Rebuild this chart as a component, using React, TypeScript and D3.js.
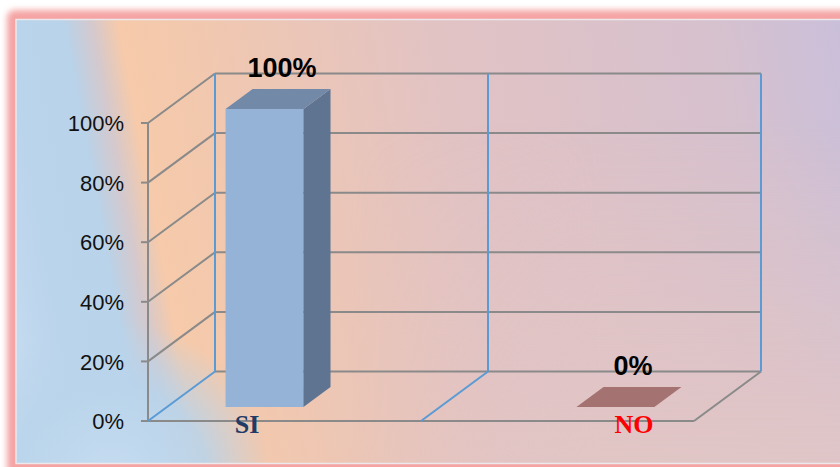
import React from "react";
import * as d3 from "d3";

const categories = ["SI", "NO"];
const values = [1.0, 0.0];
const valueLabels = ["100%", "0%"];
const yTicks = [0, 0.2, 0.4, 0.6, 0.8, 1.0];
const categoryColors = ["#1F3B66", "#FF0000"];

const W = 840;
const H = 467;

export default function App() {
  const x0 = 148, x1 = 694;
  const y = d3.scaleLinear().domain([0, 1]).range([421, 123]);
  const DX = 67, DY = -49.5;
  const t0 = 0.283, t1 = 0.687;
  const xCat = d3.scaleBand<string>().domain(categories).range([x0, x1]);
  const xBar = d3.scaleBand<string>().domain(categories).range([x0, x1]).paddingInner(0.778).paddingOuter(0.167);
  const xLab = d3.scalePoint<string>().domain(categories).range([247, 634]);
  const fmt = d3.format(".0%");

  const grey = "#8A8A8A";
  const blue = "#5B9BD5";

  const ux = 0.9835, uy = -0.1808;
  const sMin = -68, sMax = 823;
  const g = { x1: ux * sMin, y1: uy * sMin, x2: ux * sMax, y2: uy * sMax };
  const stops: [number, string][] = [
    [-68, "#C8DDF1"], [0, "#BAD4EC"], [58, "#B8D3EA"], [85, "#D3C9CE"],
    [112, "#F6CAAA"], [180, "#F2C8AE"], [420, "#E2C3C4"], [700, "#D6C1CE"], [823, "#CABFDA"],
  ];

  const line = (xa: number, ya: number, xb: number, yb: number, c: string, k: string) => (
    <line key={k} x1={xa} y1={ya} x2={xb} y2={yb} stroke={c} strokeWidth={2} />
  );

  const elems: React.ReactNode[] = [];
  yTicks.forEach((t, i) => {
    const yy = y(t);
    elems.push(line(x0 + DX, yy + DY, x1 + DX, yy + DY, grey, "bg" + i));
    if (i > 0) elems.push(line(x0, yy, x0 + DX, yy + DY, grey, "sd" + i));
    elems.push(line(x0 - 7, yy, x0, yy, grey, "tk" + i));
  });
  elems.push(line(x0, y(0), x1, y(0), grey, "ff"));
  elems.push(line(x1, y(0), x1 + DX, y(0) + DY, grey, "fr"));
  elems.push(line(x0, y(0), x0, y(1), grey, "ax"));
  const bounds = [x0, (xCat(categories[1]) as number), x1];
  bounds.forEach((bx, i) => {
    elems.push(line(bx + DX, y(0) + DY, bx + DX, y(1) + DY, blue, "bv" + i));
    if (i < 2) elems.push(line(bx, y(0), bx + DX, y(0) + DY, blue, "bd" + i));
  });

  const bw = xBar.bandwidth();
  const ddx = (t1 - t0) * DX, ddy = (t1 - t0) * DY;
  const barColors = [
    { front: "#95B3D7", side: "#5F7490", top: "#7389A8" },
    { front: "#C0504D", side: "#8C3836", top: "#A57272" },
  ];

  return (
    <svg width={W} height={H} style={{ position: "absolute", left: 0, top: 0 }}>
      <defs>
        <linearGradient id="bgG" gradientUnits="userSpaceOnUse" x1={g.x1} y1={g.y1} x2={g.x2} y2={g.y2}>
          {stops.map(([s, c], i) => (
            <stop key={i} offset={(s - sMin) / (sMax - sMin)} stopColor={c} />
          ))}
        </linearGradient>
        <radialGradient id="blueBlob" gradientUnits="userSpaceOnUse" cx={110} cy={480} r={160}>
          <stop offset={0} stopColor="#C6DCF0" stopOpacity={1} />
          <stop offset={0.6} stopColor="#B9D4EB" stopOpacity={0.9} />
          <stop offset={1} stopColor="#B9D4EB" stopOpacity={0} />
        </radialGradient>
        <linearGradient id="pinkV" gradientUnits="userSpaceOnUse" x1={0} y1={120} x2={0} y2={463}>
          <stop offset={0} stopColor="#E3C5C4" stopOpacity={0} />
          <stop offset={1} stopColor="#E2C6C5" stopOpacity={0.85} />
        </linearGradient>
        <linearGradient id="maskH" gradientUnits="userSpaceOnUse" x1={350} y1={0} x2={600} y2={0}>
          <stop offset={0} stopColor="#000" />
          <stop offset={1} stopColor="#FFF" />
        </linearGradient>
        <mask id="rightMask" maskUnits="userSpaceOnUse" x={0} y={0} width={W} height={H}>
          <rect x={0} y={0} width={W} height={H} fill="url(#maskH)" />
        </mask>
        <filter id="blur" x="-10%" y="-10%" width="120%" height="120%">
          <feGaussianBlur stdDeviation={3} />
        </filter>
      </defs>
      <rect x={0} y={0} width={W} height={H} fill="#FFFFFF" />
      <rect x={7} y={10} width={860} height={470} rx={8} fill="#F5A3A3" filter="url(#blur)" />
      <rect x={16} y={19.5} width={840} height={444} fill="url(#bgG)" />
      <rect x={16} y={19.5} width={840} height={444} fill="url(#blueBlob)" />
      <rect x={16} y={19.5} width={840} height={444} fill="url(#pinkV)" mask="url(#rightMask)" />
      <rect x={16} y={19.5} width={840} height={444} fill="none" stroke="#ECE8EC" strokeWidth={1.5} />
      {elems}
      {yTicks.map((t, i) => (
        <text key={"yl" + i} x={124} y={y(t)} dy="0.37em" textAnchor="end"
          fontFamily="Liberation Sans, Arial, sans-serif" fontSize={22} fill="#111">
          {fmt(t)}
        </text>
      ))}
      {categories.map((c, i) => {
        const fx = (xBar(c) as number) + t0 * DX;
        const fb = y(0) + t0 * DY;
        const ft = y(values[i]) + t0 * DY;
        const col = barColors[i];
        const front = `M${fx},${fb}L${fx + bw},${fb}L${fx + bw},${ft}L${fx},${ft}Z`;
        const side = `M${fx + bw},${fb}L${fx + bw + ddx},${fb + ddy}L${fx + bw + ddx},${ft + ddy}L${fx + bw},${ft}Z`;
        const top = `M${fx},${ft}L${fx + bw},${ft}L${fx + bw + ddx},${ft + ddy}L${fx + ddx},${ft + ddy}Z`;
        const cx = fx + bw / 2 + ddx / 2;
        const cy = ft + ddy / 2;
        return (
          <g key={"bar" + i}>
            {values[i] > 0 && <path d={front} fill={col.front} />}
            {values[i] > 0 && <path d={side} fill={col.side} />}
            <path d={top} fill={col.top} />
            <text x={cx + 4} y={cy - 22} textAnchor="middle" fontFamily="Liberation Sans, Arial, sans-serif"
              fontWeight="bold" fontSize={27} fill="#000">
              {valueLabels[i]}
            </text>
          </g>
        );
      })}
      {categories.map((c, i) => (
        <text key={"cl" + i} x={xLab(c)} y={432.5} textAnchor="middle"
          fontFamily="Liberation Serif, Times New Roman, serif" fontWeight="bold" fontSize={26}
          fill={categoryColors[i]}>
          {c}
        </text>
      ))}
    </svg>
  );
}
